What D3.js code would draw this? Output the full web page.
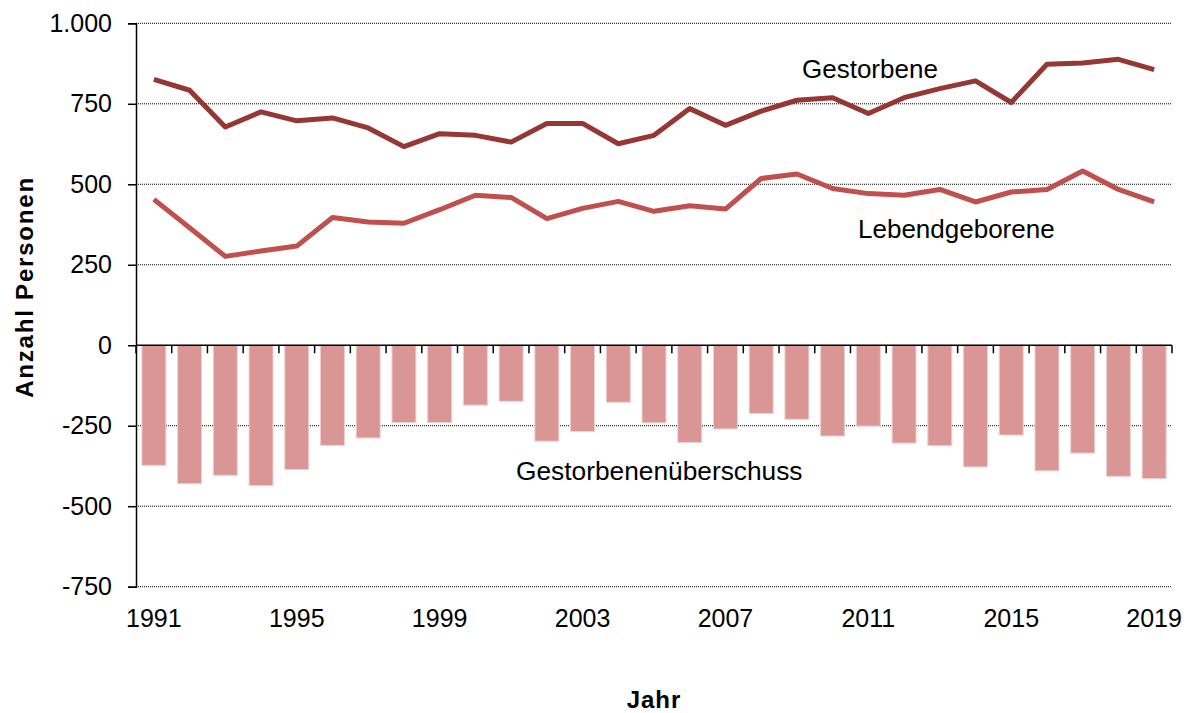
<!DOCTYPE html>
<html>
<head>
<meta charset="utf-8">
<script src="https://cdn.jsdelivr.net/npm/d3@7"></script>
<style>
  body { margin: 0; background: #fff; }
  svg { display: block; font-family: Arial, "Liberation Sans", sans-serif; }
</style>
</head>
<body>
<svg id="chart" width="1195" height="713"></svg>
<script>
'use strict';

// values
var years = [1991, 1992, 1993, 1994, 1995, 1996, 1997, 1998, 1999, 2000,
             2001, 2002, 2003, 2004, 2005, 2006, 2007, 2008, 2009, 2010,
             2011, 2012, 2013, 2014, 2015, 2016, 2017, 2018, 2019];
var gestorbene = [826, 792, 678, 725, 697, 706, 675, 617, 657, 652,
                  631, 689, 689, 626, 652, 735, 683, 727, 761, 769,
                  720, 769, 797, 821, 754, 873, 877, 888, 856];
var lebendgeborene = [453, 365, 276, 293, 308, 397, 383, 379, 421, 466,
                      459, 393, 425, 447, 416, 433, 423, 518, 532, 487,
                      471, 466, 484, 445, 476, 484, 541, 484, 445];
var ueberschuss = [-373, -430, -404, -436, -386, -311, -288, -240, -240, -186,
                   -174, -298, -268, -177, -241, -302, -260, -212, -230, -282,
                   -251, -304, -312, -378, -279, -390, -335, -407, -414];
var xTickYears = [1991, 1995, 1999, 2003, 2007, 2011, 2015, 2019];
var yTicks = [-750, -500, -250, 0, 250, 500, 750, 1000];

(function () {
  var svg = d3.select('#chart');
  var left = 136, right = 1172, top = 23.3, bottom = 586.7;

  var de = d3.formatLocale({decimal: ',', thousands: '.', grouping: [3], currency: ['', ' €'], minus: '-'});
  var fmt = de.format(',d');

  var x = d3.scaleBand().domain(years).range([left, right])
    .paddingInner(0.33).paddingOuter(0.165);
  var y = d3.scaleLinear().domain([-750, 1000]).range([bottom, top]);

  // dotted grid lines
  svg.append('g')
    .selectAll('line')
    .data(yTicks.filter(function (d) { return d !== 0; }))
    .enter().append('line')
    .attr('x1', left).attr('x2', right)
    .attr('y1', function (d) { return y(d); })
    .attr('y2', function (d) { return y(d); })
    .attr('stroke', '#000')
    .attr('stroke-width', 1)
    .attr('stroke-dasharray', '1,1');

  // bars: Gestorbenenüberschuss
  svg.append('g')
    .selectAll('rect')
    .data(ueberschuss)
    .enter().append('rect')
    .attr('x', function (d, i) { return x(years[i]); })
    .attr('y', y(0))
    .attr('width', x.bandwidth())
    .attr('height', function (d) { return y(d) - y(0); })
    .attr('fill', '#D99694')
    .attr('stroke', '#EFCFCE')
    .attr('stroke-width', 1);

  // y axis
  var yAxis = d3.axisLeft(y).tickValues(yTicks).tickSize(8).tickPadding(16)
    .tickFormat(function (d) { return fmt(d); });
  var gy = svg.append('g')
    .attr('transform', 'translate(' + left + ',0)')
    .call(yAxis);
  gy.select('.domain').attr('stroke', '#000').attr('stroke-width', 1.5);
  gy.selectAll('.tick line').attr('stroke', '#000').attr('stroke-width', 1.5);
  gy.selectAll('.tick text')
    .attr('font-size', 25)
    .attr('font-family', 'Arial, "Liberation Sans", sans-serif')
    .attr('fill', '#000');

  // zero line with category ticks
  var step = x.step();
  var bounds = years.map(function (d, i) { return left + i * step; }).concat([right]);
  var gx = svg.append('g');
  gx.append('line')
    .attr('x1', left).attr('x2', right)
    .attr('y1', y(0)).attr('y2', y(0))
    .attr('stroke', '#000').attr('stroke-width', 1.5);
  gx.selectAll('.xt')
    .data(bounds)
    .enter().append('line')
    .attr('class', 'xt')
    .attr('x1', function (d) { return d; })
    .attr('x2', function (d) { return d; })
    .attr('y1', y(0)).attr('y2', y(0) + 8)
    .attr('stroke', '#000').attr('stroke-width', 1.5);

  // year labels at the bottom
  svg.append('g')
    .selectAll('text')
    .data(xTickYears)
    .enter().append('text')
    .attr('x', function (d) { return x(d) + x.bandwidth() / 2; })
    .attr('y', 627)
    .attr('text-anchor', 'middle')
    .attr('font-size', 25)
    .text(function (d) { return d; });

  // lines
  var line = d3.line()
    .x(function (d, i) { return x(years[i]) + x.bandwidth() / 2; })
    .y(function (d) { return y(d); });

  svg.append('path')
    .datum(lebendgeborene)
    .attr('fill', 'none')
    .attr('stroke', '#C0504D')
    .attr('stroke-width', 5)
    .attr('stroke-linejoin', 'round')
    .attr('d', line);

  svg.append('path')
    .datum(gestorbene)
    .attr('fill', 'none')
    .attr('stroke', '#953735')
    .attr('stroke-width', 5)
    .attr('stroke-linejoin', 'round')
    .attr('d', line);

  // series labels
  svg.append('text').attr('x', 802).attr('y', 78)
    .attr('font-size', 26).text('Gestorbene');
  svg.append('text').attr('x', 858).attr('y', 238)
    .attr('font-size', 26).text('Lebendgeborene');
  svg.append('text').attr('x', 516).attr('y', 480)
    .attr('font-size', 26.3).text('Gestorbenenüberschuss');

  // axis titles
  svg.append('text')
    .attr('transform', 'translate(33,287) rotate(-90)')
    .attr('text-anchor', 'middle')
    .attr('font-size', 24)
    .attr('font-weight', 'bold')
    .attr('letter-spacing', 1.8)
    .text('Anzahl Personen');
  svg.append('text')
    .attr('x', 654).attr('y', 708)
    .attr('text-anchor', 'middle')
    .attr('font-size', 24)
    .attr('font-weight', 'bold')
    .attr('letter-spacing', 1)
    .text('Jahr');
})();
</script>
</body>
</html>
